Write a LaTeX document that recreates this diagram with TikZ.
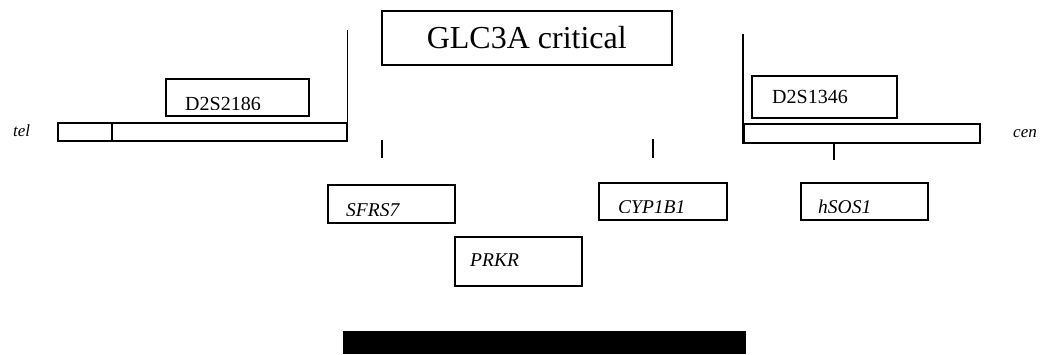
\documentclass[tikz,border=0pt]{standalone}
\usepackage{fontspec}
\setmainfont{Liberation Serif}
\usetikzlibrary{calc}

\begin{document}
\begin{tikzpicture}[
  x=1pt, y=-1pt,
  box/.style={draw, line width=1.5pt, anchor=north west, inner sep=0pt},
  mkr/.style={anchor=base west, inner sep=0pt, font=\fontsize{20}{24}\selectfont},
  gene/.style={anchor=base west, inner sep=0pt, font=\fontsize{19.5}{23}\selectfont\itshape},
  side/.style={anchor=base west, inner sep=0pt, font=\fontsize{17}{20}\selectfont\itshape},
  stub/.style={line width=1.5pt}
]
\useasboundingbox (0,0) rectangle (1043,354);

\node[box, minimum width=290pt, minimum height=54pt, font=\fontsize{32}{36}\selectfont] (glc) at (381,10) {GLC3A critical};

\node[side] (tel) at (13,136) {tel};
\node[box, minimum width=54pt, minimum height=18pt] (lbara) at (57,122) {};
\node[box, minimum width=235pt, minimum height=18pt] (lbarb) at (111,122) {};
\node[box, minimum width=143pt, minimum height=37pt] (d2186) at (165,78) {};
\begin{scope}
  \clip (d2186.north west) rectangle ($(d2186.south east)+(0,-7)$);
  \node[mkr] (d2186-t) at (185,110) {D2S2186};
\end{scope}

\node[box, minimum width=236pt, minimum height=19pt] (rbar) at (743,123) {};
\node[side] (cen) at (1013,137) {cen};
\node[box, minimum width=145pt, minimum height=42pt] (d1346) at (751,75) {};
\node[mkr] (d1346-t) at (772,103) {D2S1346};

\draw[stub] (lbarb.south east) -- ++(0,-112);
\draw[stub] (rbar.south west) -- ++(0,-110);

\draw[stub] (382,140) -- (382,158);
\draw[stub] (653,139) -- (653,158);
\draw[stub] (834,142) -- (834,160);

\node[box, minimum width=127pt, minimum height=38pt] (sfrs) at (327,184) {};
\begin{scope}
  \clip (sfrs.north west) rectangle ($(sfrs.south east)+(0,-8)$);
  \node[gene] (sfrs-t) at (346,216) {SFRS7};
\end{scope}

\node[box, minimum width=128pt, minimum height=37pt] (cyp) at (598,182) {};
\begin{scope}
  \clip (cyp.north west) rectangle ($(cyp.south east)+(0,-8)$);
  \node[gene] (cyp-t) at (618,213) {CYP1B1};
\end{scope}

\node[box, minimum width=127pt, minimum height=37pt] (hsos) at (800,182) {};
\begin{scope}
  \clip (hsos.north west) rectangle ($(hsos.south east)+(0,-8)$);
  \node[gene] (hsos-t) at (818,213) {hSOS1};
\end{scope}

\node[box, minimum width=127pt, minimum height=49pt] (prkr) at (454,236) {};
\node[gene] (prkr-t) at (470,266) {PRKR};

\node[fill=black, anchor=north west, inner sep=0pt, minimum width=403pt, minimum height=23pt] (bar) at (343,331) {};
\end{tikzpicture}
\end{document}
